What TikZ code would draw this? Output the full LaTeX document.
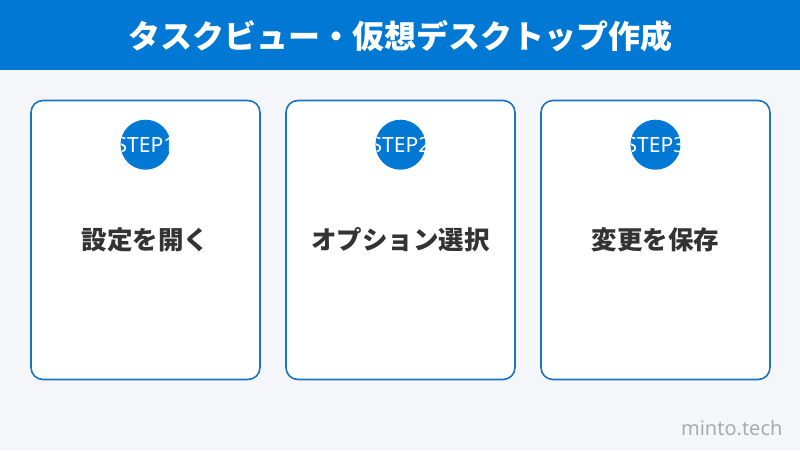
\documentclass[tikz,border=0pt]{standalone}
\usepackage{fontspec}
\setmainfont{Noto Sans}
\newfontfamily\jpfont{Noto Sans CJK JP}
\usetikzlibrary{positioning,calc}
\definecolor{barblue}{HTML}{0078D4}
\definecolor{cardline}{HTML}{1A74BE}
\definecolor{pagebg}{HTML}{F4F6FA}
\definecolor{inktext}{HTML}{333333}
\definecolor{marktext}{HTML}{AAAAAA}
\tikzset{%
       card/.style = { draw=cardline, line width=1.6pt, fill=white, rounded corners=12pt,
                       minimum width=229pt, minimum height=279pt, inner sep=0pt },
      stepdot/.style = { circle, fill=barblue, minimum size=50pt, inner sep=0pt },
    steptext/.style = { white, font=\fontsize{21}{21}\selectfont },
    cardtext/.style = { inktext, font=\jpfont\bfseries\fontsize{25.5}{25.5}\selectfont },
       title/.style = { white, font=\jpfont\bfseries\fontsize{32}{32}\selectfont }
}

\begin{document}
\begin{tikzpicture}[x=1pt,y=-1pt]
  \fill[pagebg] (0,0) rectangle (800,450);
  \useasboundingbox (0,0) rectangle (800,450);
  \fill[barblue] (0,0) rectangle (800,70);
  \node[title] (head) at (400,36) {タスクビュー・仮想デスクトップ作成};

  \node[card] (c1) at (145.5,240) {};
  \node[card, right=24.4pt of c1] (c2) {};
  \node[card, right=24.4pt of c2] (c3) {};

  \foreach \c/\n/\t in {c1/1/設定を開く, c2/2/オプション選択, c3/3/変更を保存} {
    \node[stepdot] (dot\n) at ($(\c.north)+(0,45)$) {};
    \begin{scope}
      \clip (dot\n) circle (25pt);
      \node[steptext] (step\n) at (dot\n) {STEP\n};
    \end{scope}
    \node[cardtext] (label\n) at (\c) {\t};
  }

  \node[marktext, font=\fontsize{20}{20}\selectfont, anchor=east] (mark) at (786,428) {minto.tech};
\end{tikzpicture}
\end{document}
